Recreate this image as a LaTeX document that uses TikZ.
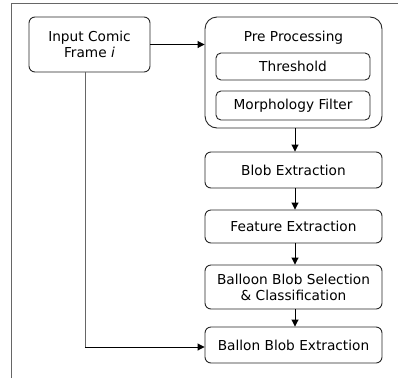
\documentclass[tikz,border=0pt]{standalone}
\usepackage{fontspec}
\setmainfont{DejaVu Sans}
\usetikzlibrary{arrows.meta}
\begin{document}
\begin{tikzpicture}[x=1pt,y=-1pt,
  box/.style={draw=black!85,line width=0.9pt,rounded corners=6pt,fill=white,inner sep=0pt,font=\fontsize{13.7}{16}\selectfont,align=center},
  conn/.style={draw=black,line width=0.9pt,-{Triangle[length=7pt,width=7pt]}},
  frameline/.style={draw=black!60,line width=1pt}]
\useasboundingbox (0,0) rectangle (398,378);
\draw[frameline] (11,378) -- (11,3.5) -- (398,3.5);
\node[box,minimum width=121pt,minimum height=55pt] (input) at (89.5,44.5) {Input Comic\\Frame \textit{i}};
\node[box,rounded corners=12pt,minimum width=177pt,minimum height=111pt] (pre) at (293.5,72.5) {};
\node[font=\fontsize{13.7}{16}\selectfont] (pretitle) at (293.5,38) {Pre Processing};
\node[box,rounded corners=5pt,minimum width=154pt,minimum height=27pt] (thr) at (293,66.5) {Threshold};
\node[box,rounded corners=5pt,minimum width=154pt,minimum height=29pt] (morph) at (293,105.5) {Morphology Filter};
\node[box,minimum width=177pt,minimum height=36pt] (blob) at (293.5,170) {Blob Extraction};
\node[box,minimum width=177pt,minimum height=33pt] (feat) at (293.5,226.5) {Feature Extraction};
\node[box,minimum width=177pt,minimum height=44pt] (sel) at (293.5,287) {Balloon Blob Selection\\\& Classification};
\node[box,minimum width=177pt,minimum height=36pt] (ext) at (293.5,345) {Ballon Blob Extraction};
\draw[conn] (input.east) -- (pre.west |- input.east);
\draw[conn] (pre.south -| 295,0) -- (blob.north -| 295,0);
\draw[conn] (blob.south -| 295,0) -- (feat.north -| 295,0);
\draw[conn] (feat.south -| 295,0) -- (sel.north -| 295,0);
\draw[conn] (sel.south -| 295,0) -- (ext.north -| 295,0);
\coordinate (corner) at (85,347);
\draw[line width=0.9pt,draw=black!60] (input.south -| corner) -- (corner);
\draw[conn] (corner) -- (ext.west |- corner);
\end{tikzpicture}
\end{document}
